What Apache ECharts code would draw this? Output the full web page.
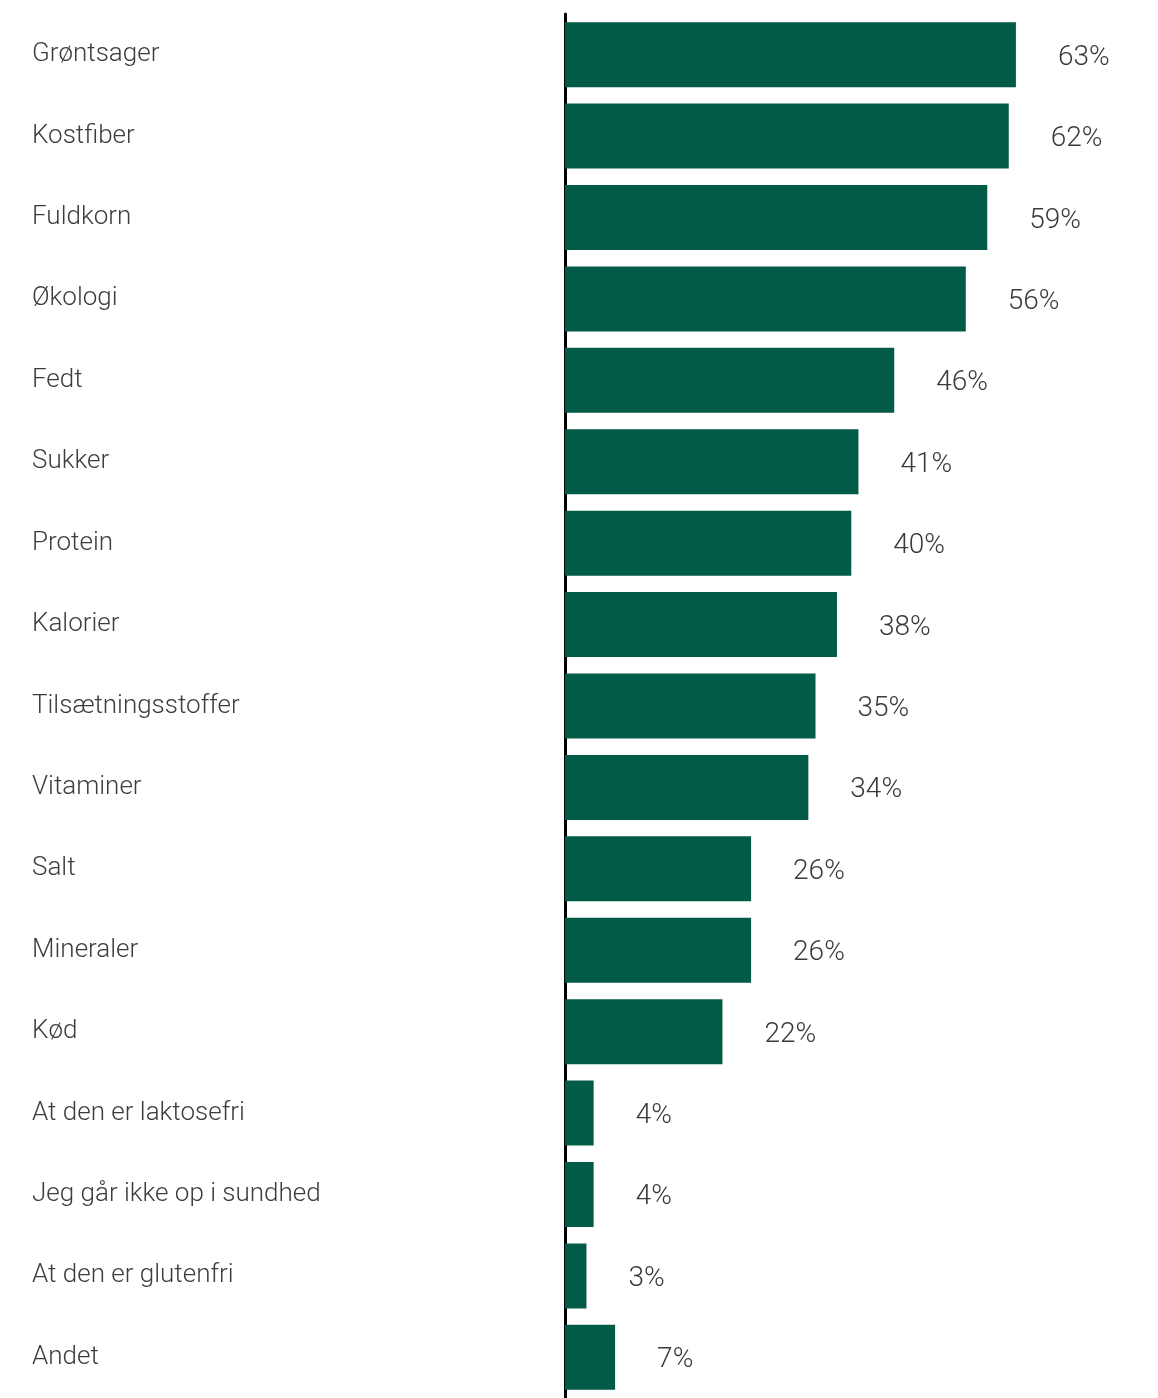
<!DOCTYPE html>
<html>
<head>
<meta charset="utf-8">
<title>Fokus på sundhed</title>
<script src="https://cdn.jsdelivr.net/npm/echarts@6/dist/echarts.min.js"></script>
<style>
  html, body { margin: 0; padding: 0; background: #ffffff; }
  #chart { width: 1158px; height: 1398px; }
</style>
</head>
<body>
<div id="chart"></div>
<script>
// Hvad man kigger efter, når man vælger sundt (andel af svar, %)
const categories = [
  'Grøntsager', 'Kostfiber', 'Fuldkorn', 'Økologi', 'Fedt', 'Sukker',
  'Protein', 'Kalorier', 'Tilsætningsstoffer', 'Vitaminer', 'Salt',
  'Mineraler', 'Kød', 'At den er laktosefri', 'Jeg går ikke op i sundhed',
  'At den er glutenfri', 'Andet'
];
const shares = [63, 62, 59, 56, 46, 41, 40, 38, 35, 34, 26, 26, 22, 4, 4, 3, 7];

const FONT = 'Roboto, "Noto Sans", sans-serif';
const chart = echarts.init(document.getElementById('chart'), null, { renderer: 'canvas' });

chart.setOption({
  animation: false,
  backgroundColor: '#ffffff',
  grid: { left: 565, top: 14, width: 501, bottom: -4, containLabel: false },
  xAxis: {
    type: 'value',
    min: 0,
    max: 70,
    show: false
  },
  yAxis: {
    type: 'category',
    data: categories,
    inverse: true,
    axisLine: { show: true, lineStyle: { color: '#000000', width: 3 } },
    axisTick: { show: false },
    axisLabel: {
      margin: 533,
      align: 'left',
      color: '#3d3d3d',
      fontFamily: FONT,
      fontWeight: 300,
      fontSize: 26
    }
  },
  series: [{
    type: 'bar',
    data: shares,
    barWidth: 65,
    itemStyle: { color: '#025b47' },
    label: {
      show: true,
      position: 'right',
      distance: 42,
      offset: [0, 3],
      formatter: p => p.value + '%',
      color: '#3a3a3a',
      fontFamily: FONT,
      fontWeight: 300,
      fontSize: 28
    }
  }]
});
</script>
</body>
</html>
